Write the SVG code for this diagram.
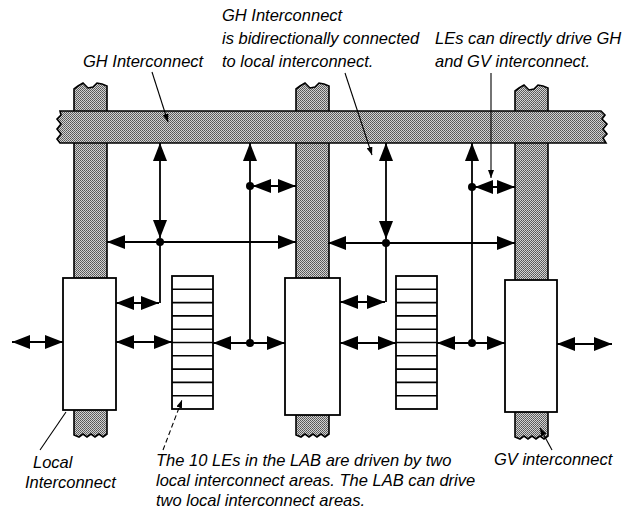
<svg xmlns="http://www.w3.org/2000/svg" xmlns:xlink="http://www.w3.org/1999/xlink" width="629" height="514" viewBox="0 0 629 514">
<style>
text{font-family:"Liberation Sans",Arial,sans-serif;font-style:italic;font-size:16.5px;fill:#000}
.gray{fill:url(#dither);stroke:#000;stroke-width:1.6}
.box{fill:#fff;stroke:#000;stroke-width:1.8}
.row{stroke:#000;stroke-width:1.6}
.wire{fill:none;stroke:#000;stroke-width:1.8}
.dbl{marker-start:url(#ah);marker-end:url(#ah)}
.up{marker-start:url(#ah)}
.lead{fill:none;stroke:#000;stroke-width:1.1}
.dot{fill:#000}
</style>
<defs>
<pattern id="dither" width="2" height="2" patternUnits="userSpaceOnUse">
<rect width="2" height="2" fill="#d2d2d2"/>
<rect width="1" height="1" fill="#555"/>
<rect x="1" y="1" width="1" height="1" fill="#666"/>
</pattern>
<marker id="ah" viewBox="0 0 18 14" refX="18" refY="7" markerWidth="18" markerHeight="14" markerUnits="userSpaceOnUse" orient="auto-start-reverse">
<path d="M0,0 L18,7 L0,14 Z" fill="#000"/>
</marker>
<marker id="sa" viewBox="0 0 8 6" refX="8" refY="3" markerWidth="8" markerHeight="6" markerUnits="userSpaceOnUse" orient="auto">
<path d="M0,0 L8,3 L0,6 Z" fill="#000"/>
</marker>
<path id="col" d="M0,89 L4,86 L9,83 L14,88 L19,87 L23,83 L28,84 L33,86 L33,434 L29,437 L25,434 L21,437 L17,434 L13,437 L9,434 L5,437 L0,435 Z"/>
<g id="le10">
<rect class="box" x="0" y="0" width="41" height="133"/>
<path class="row" d="M0,13.3H41M0,26.6H41M0,39.9H41M0,53.2H41M0,66.5H41M0,79.8H41M0,93.1H41M0,106.4H41M0,119.7H41"/>
</g>
</defs>

<g id="gv-left"><use href="#col" xlink:href="#col" class="gray" x="74"/></g>
<g id="gv-middle"><use href="#col" xlink:href="#col" class="gray" x="296"/></g>
<g id="gv-right"><use href="#col" xlink:href="#col" class="gray" x="515" y="2"/></g>

<g id="gh-bar">
<path class="gray" d="M60,111 L601,111 L605,115 L602,119 L607,124 L603,129 L607,134 L603,138 L606,143 L60,143 L57,139 L61,134 L57,129 L61,124 L57,119 L61,115 Z"/>
</g>

<g id="lab-left"><rect class="box" x="63" y="278" width="53" height="132"/></g>
<g id="lab-middle"><rect class="box" x="285" y="278" width="55" height="137"/></g>
<g id="lab-right"><rect class="box" x="505" y="280" width="52" height="132"/></g>
<g id="le-left"><use href="#le10" xlink:href="#le10" x="172" y="276"/></g>
<g id="le-right"><use href="#le10" xlink:href="#le10" x="396" y="276"/></g>

<g id="connectors">
<line class="wire dbl" x1="160" y1="143" x2="160" y2="238"/>
<line class="wire dbl" x1="107" y1="242" x2="296" y2="242"/>
<path class="wire" d="M160,242 V303"/>
<line class="wire dbl" x1="116" y1="303" x2="159" y2="303"/>
<line class="wire up" x1="250" y1="143" x2="250" y2="343"/>
<line class="wire dbl" x1="253" y1="186" x2="296" y2="186"/>
<line class="wire dbl" x1="213" y1="343" x2="285" y2="343"/>
<line class="wire dbl" x1="116" y1="342" x2="172" y2="342"/>
<line class="wire dbl" x1="12" y1="342" x2="63" y2="342"/>
<line class="wire dbl" x1="386" y1="143" x2="386" y2="239"/>
<line class="wire dbl" x1="328" y1="243" x2="515" y2="243"/>
<path class="wire" d="M386,243 V302"/>
<line class="wire dbl" x1="340" y1="302" x2="385" y2="302"/>
<line class="wire up" x1="472" y1="143" x2="472" y2="343"/>
<line class="wire dbl" x1="475" y1="187" x2="515" y2="187"/>
<line class="wire dbl" x1="437" y1="343" x2="505" y2="343"/>
<line class="wire dbl" x1="340" y1="343" x2="396" y2="343"/>
<line class="wire dbl" x1="557" y1="344" x2="612" y2="344"/>
<circle class="dot" cx="160" cy="242" r="4"/>
<circle class="dot" cx="250" cy="186" r="4"/>
<circle class="dot" cx="250" cy="343" r="4"/>
<circle class="dot" cx="386" cy="243" r="4"/>
<circle class="dot" cx="472" cy="187" r="4"/>
<circle class="dot" cx="472" cy="343" r="4"/>
</g>

<g id="leaders">
<line class="lead" x1="152" y1="72" x2="168" y2="122" marker-end="url(#sa)"/>
<line class="lead" x1="345" y1="73" x2="372" y2="155" marker-end="url(#sa)"/>
<line class="lead" x1="491" y1="73" x2="491" y2="178" marker-end="url(#sa)"/>
<line class="lead" x1="40" y1="450" x2="66" y2="412"/>
<line class="lead" x1="163" y1="450" x2="182" y2="400" stroke-dasharray="5 3" marker-end="url(#sa)"/>
<line class="lead" x1="552" y1="450" x2="540" y2="428" marker-end="url(#sa)"/>
</g>

<g id="labels">
<text x="83" y="67">GH Interconnect</text>
<text x="222" y="21">GH Interconnect</text>
<text x="222" y="44">is bidirectionally connected</text>
<text x="222" y="67">to local interconnect.</text>
<text x="435" y="44">LEs can directly drive GH</text>
<text x="435" y="67">and GV interconnect.</text>
<text x="33" y="468">Local</text>
<text x="25" y="488">Interconnect</text>
<text x="156" y="466">The 10 LEs in the LAB are driven by two</text>
<text x="156" y="486">local interconnect areas. The LAB can drive</text>
<text x="156" y="506">two local interconnect areas.</text>
<text x="494" y="465">GV interconnect</text>
</g>
</svg>
